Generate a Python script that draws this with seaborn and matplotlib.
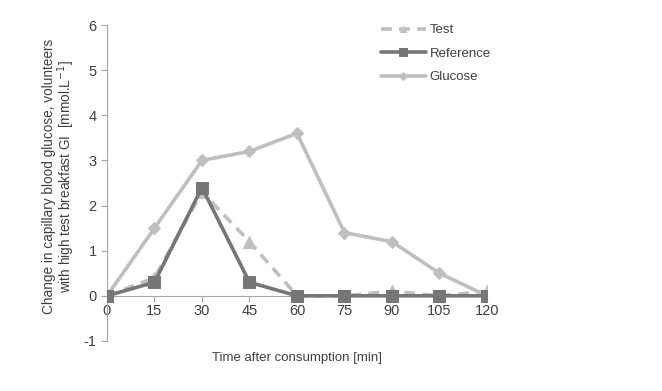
import matplotlib
matplotlib.use("Agg")
from matplotlib import pyplot as plt
import pandas as pd
import seaborn as sns

# data
minutes = [0, 15, 30, 45, 60, 75, 90, 105, 120]
test = [0, 0.4, 2.3, 1.2, 0, 0, 0.1, 0, 0.1]
reference = [0, 0.3, 2.4, 0.3, 0, 0, 0, 0, 0]
glucose = [0, 1.5, 3.0, 3.2, 3.6, 1.4, 1.2, 0.5, 0]

sns.set_style("white")
plt.rcParams["font.family"] = ["Liberation Sans", "DejaVu Sans"]
plt.rcParams["axes.unicode_minus"] = False

fig, ax = plt.subplots(figsize=(6.62, 3.91), dpi=100)
fig.subplots_adjust(left=0.1616, right=0.7356, bottom=0.128, top=0.936)

light = "#BFBFBF"
dark = "#767676"

sns.lineplot(x=minutes, y=test, ax=ax, color=light, linewidth=2.6,
             linestyle=(0, (3, 2)), marker="^", markersize=8,
             markeredgecolor=light, label="Test", zorder=3)
sns.lineplot(x=minutes, y=reference, ax=ax, color=dark, linewidth=2.6,
             marker="s", markersize=9, markeredgecolor=dark,
             label="Reference", zorder=4)
sns.lineplot(x=minutes, y=glucose, ax=ax, color=light, linewidth=2.6,
             marker="D", markersize=6.5, markeredgecolor=light,
             label="Glucose", zorder=2)

ax.set_xlim(0, 120)
ax.set_ylim(-1, 6)
ax.set_xticks(minutes)
ax.set_yticks(range(-1, 7))

axis_col = "#A6A6A6"
text_col = "#404040"
for side in ("top", "right"):
    ax.spines[side].set_visible(False)
ax.spines["bottom"].set_position(("data", 0))
ax.spines["bottom"].set_color(axis_col)
ax.spines["left"].set_color(axis_col)
ax.spines["bottom"].set_zorder(1)
ax.tick_params(axis="both", direction="out", length=4, color=axis_col,
               labelsize=10.5, labelcolor=text_col, bottom=True, left=True)
ax.tick_params(axis="x", pad=2)

ax.set_xlabel("Time after consumption [min]", fontsize=9.5, color=text_col)
ax.xaxis.set_label_coords(0.5, -0.035)
ax.set_ylabel("Change in capillary blood glucose, volunteers\n"
              "with high test breakfast GI  [mmol.L$^{-1}$]",
              fontsize=9.8, color=text_col, linespacing=0.95)
ax.yaxis.set_label_coords(-0.08, 0.52)

leg = ax.legend(loc="upper left", bbox_to_anchor=(0.69, 1.04), frameon=False,
                fontsize=9.5, handlelength=3.4, labelspacing=0.85,
                handletextpad=0.3, markerscale=0.6)
for t in leg.get_texts():
    t.set_color(text_col)

fig.savefig("out.png", dpi=100)
